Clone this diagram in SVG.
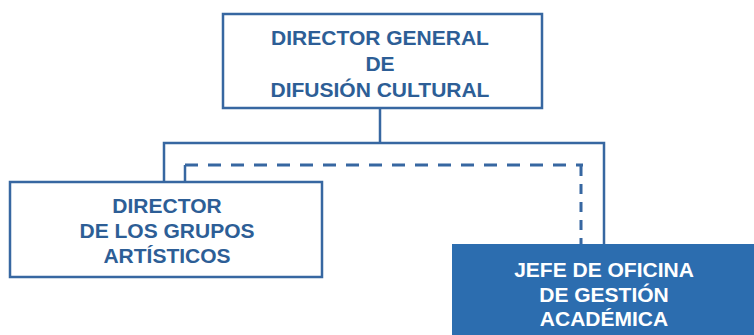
<svg xmlns="http://www.w3.org/2000/svg" width="754" height="335" viewBox="0 0 754 335">
<style>
.box{fill:#ffffff;stroke:#3767a1;stroke-width:2.5}
.boxf{fill:#2c6daf;stroke:#2c6daf;stroke-width:2}
.ln{fill:none;stroke:#3767a1;stroke-width:2.5}
.dash{fill:none;stroke:#3767a1;stroke-width:3}
.dh{stroke-dasharray:13 10}
.dv{stroke-dasharray:10 8}
.t{font-family:"Liberation Sans",Arial,sans-serif;font-weight:bold;font-size:21px;fill:#2d5e96;text-anchor:middle}
.tw{fill:#ffffff}
</style>
<rect width="754" height="335" fill="#ffffff"/>
<g id="connectors">
<path class="ln" d="M380 108 V143"/>
<path class="ln" d="M164 182 V143 H604 V245"/>
<path class="ln" d="M185 182 V165" stroke-width="2"/>
<path class="dash dh" d="M185 165 H583"/>
<path class="dash dv" d="M581 166 V245"/>
</g>
<g id="director-general">
<rect class="box" x="223" y="14" width="319" height="94"/>
<text class="t" x="380" y="45">DIRECTOR GENERAL</text>
<text class="t" x="380" y="71">DE</text>
<text class="t" x="380" y="97">DIFUSIÓN CULTURAL</text>
</g>
<g id="director-grupos">
<rect class="box" x="10" y="182" width="312" height="95"/>
<text class="t" x="167" y="213">DIRECTOR</text>
<text class="t" x="167" y="238">DE LOS GRUPOS</text>
<text class="t" x="167" y="263">ARTÍSTICOS</text>
</g>
<g id="jefe-oficina">
<rect class="boxf" x="453" y="245" width="303" height="92"/>
<text class="t tw" x="604" y="277">JEFE DE OFICINA</text>
<text class="t tw" x="604" y="302">DE GESTIÓN</text>
<text class="t tw" x="604" y="326">ACADÉMICA</text>
</g>
</svg>
